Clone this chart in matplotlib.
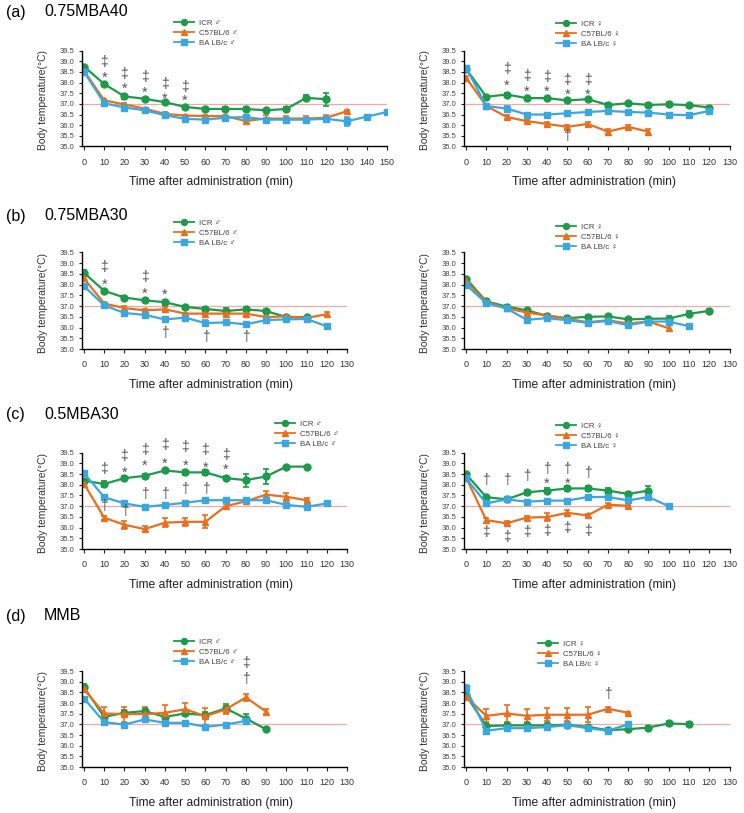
import matplotlib
matplotlib.use('Agg')
import matplotlib.pyplot as plt
from matplotlib.lines import Line2D

plt.rcParams['font.family'] = ['Liberation Sans', 'DejaVu Sans']

# time points (min)
minutes = [0, 10, 20, 30, 40, 50, 60, 70, 80, 90, 100, 110, 120, 130, 140, 150]

# ---- (a) 0.75MBA40
a_icr_m = [38.75, 37.93, 37.35, 37.24, 37.08, 36.86, 36.76, 36.76, 36.76, 36.70, 36.76, 37.28, 37.22]
a_icr_m_err = [0.05, 0.1, 0.1, 0.05, 0.05, 0.05, 0.05, 0.1, 0.1, 0.05, 0.1, 0.12, 0.3]
a_c57_m = [38.55, 37.17, 36.97, 36.78, 36.53, 36.45, 36.43, 36.42, 36.20, 36.31, 36.31, 36.31, 36.35, 36.65]
a_c57_m_err = [0.05, 0.05, 0.05, 0.05, 0.08, 0.05, 0.05, 0.05, 0.05, 0.15, 0.1, 0.1, 0.15, 0.05]
a_balb_m = [38.51, 37.03, 36.83, 36.70, 36.47, 36.30, 36.26, 36.35, 36.38, 36.26, 36.26, 36.26, 36.30, 36.18, 36.40, 36.62]
a_balb_m_err = [0.05, 0.08, 0.05, 0.05, 0.05, 0.05, 0.05, 0.05, 0.1, 0.05, 0.05, 0.05, 0.1, 0.22, 0.05, 0.05]

a_icr_f = [38.65, 37.33, 37.44, 37.27, 37.27, 37.16, 37.22, 36.95, 37.03, 36.95, 36.98, 36.94, 36.83]
a_icr_f_err = [0.05, 0.08, 0.05, 0.05, 0.05, 0.08, 0.06, 0.08, 0.05, 0.08, 0.1, 0.05, 0.05]
a_c57_f = [38.23, 36.90, 36.39, 36.19, 36.06, 35.92, 36.06, 35.70, 35.92, 35.70]
a_c57_f_err = [0.08, 0.05, 0.08, 0.05, 0.08, 0.1, 0.1, 0.1, 0.1, 0.1]
a_balb_f = [38.70, 36.90, 36.78, 36.50, 36.50, 36.56, 36.62, 36.67, 36.62, 36.59, 36.50, 36.47, 36.67]
a_balb_f_err = [0.1, 0.05, 0.1, 0.05, 0.05, 0.05, 0.05, 0.05, 0.05, 0.05, 0.05, 0.1, 0.1]

# ---- (b) 0.75MBA30
b_icr_m = [38.55, 37.71, 37.40, 37.27, 37.18, 36.96, 36.87, 36.77, 36.85, 36.77, 36.49, 36.49]
b_icr_m_err = [0.15, 0.1, 0.05, 0.08, 0.12, 0.05, 0.08, 0.12, 0.08, 0.08, 0.05, 0.05]
b_c57_m = [38.29, 37.12, 36.91, 36.80, 36.85, 36.65, 36.65, 36.65, 36.65, 36.49, 36.52, 36.45, 36.62]
b_c57_m_err = [0.1, 0.05, 0.08, 0.08, 0.1, 0.05, 0.08, 0.1, 0.1, 0.05, 0.05, 0.05, 0.1]
b_balb_m = [37.93, 37.03, 36.68, 36.59, 36.38, 36.46, 36.21, 36.24, 36.15, 36.35, 36.38, 36.40, 36.06]
b_balb_m_err = [0.1, 0.08, 0.08, 0.08, 0.08, 0.05, 0.15, 0.08, 0.12, 0.1, 0.08, 0.05, 0.08]

b_icr_f = [38.28, 37.22, 36.98, 36.80, 36.55, 36.44, 36.50, 36.52, 36.38, 36.41, 36.42, 36.64, 36.78]
b_icr_f_err = [0.05, 0.05, 0.05, 0.08, 0.06, 0.08, 0.07, 0.07, 0.07, 0.07, 0.1, 0.12, 0.1]
b_c57_f = [38.15, 37.19, 36.90, 36.70, 36.56, 36.41, 36.25, 36.34, 36.19, 36.28, 35.97]
b_c57_f_err = [0.05, 0.05, 0.05, 0.1, 0.08, 0.05, 0.05, 0.05, 0.05, 0.05, 0.15]
b_balb_f = [38.00, 37.14, 36.89, 36.36, 36.44, 36.34, 36.22, 36.31, 36.11, 36.28, 36.28, 36.06]
b_balb_f_err = [0.05, 0.05, 0.05, 0.05, 0.05, 0.1, 0.08, 0.05, 0.1, 0.08, 0.05, 0.08]

# ---- (c) 0.5MBA30
c_icr_m = [38.19, 38.04, 38.31, 38.42, 38.67, 38.58, 38.58, 38.31, 38.22, 38.39, 38.85, 38.85]
c_icr_m_err = [0.08, 0.12, 0.1, 0.1, 0.06, 0.12, 0.1, 0.1, 0.3, 0.35, 0.05, 0.05]
c_c57_m = [38.05, 36.46, 36.13, 35.93, 36.23, 36.27, 36.27, 37.00, 37.23, 37.54, 37.44, 37.28]
c_c57_m_err = [0.05, 0.1, 0.2, 0.15, 0.2, 0.18, 0.3, 0.08, 0.08, 0.15, 0.2, 0.08]
c_balb_m = [38.54, 37.42, 37.13, 36.97, 37.06, 37.16, 37.28, 37.28, 37.28, 37.28, 37.06, 36.97, 37.13]
c_balb_m_err = [0.08, 0.08, 0.06, 0.05, 0.05, 0.06, 0.1, 0.1, 0.1, 0.1, 0.08, 0.06, 0.05]

c_icr_f = [38.50, 37.42, 37.32, 37.65, 37.73, 37.83, 37.83, 37.73, 37.57, 37.73]
c_icr_f_err = [0.05, 0.12, 0.08, 0.12, 0.1, 0.1, 0.1, 0.1, 0.08, 0.2]
c_c57_f = [38.34, 36.35, 36.20, 36.47, 36.49, 36.69, 36.57, 37.07, 37.02]
c_c57_f_err = [0.05, 0.12, 0.1, 0.08, 0.2, 0.12, 0.08, 0.1, 0.05]
c_balb_f = [38.30, 37.13, 37.32, 37.21, 37.26, 37.26, 37.43, 37.43, 37.27, 37.43, 37.00]
c_balb_f_err = [0.08, 0.08, 0.08, 0.06, 0.06, 0.06, 0.1, 0.1, 0.1, 0.08, 0.05]

# ---- (d) MMB
d_icr_m = [38.73, 37.35, 37.54, 37.62, 37.35, 37.51, 37.43, 37.75, 37.27, 36.77]
d_icr_m_err = [0.15, 0.15, 0.12, 0.15, 0.15, 0.12, 0.15, 0.2, 0.2, 0.05]
d_c57_m = [38.64, 37.51, 37.48, 37.48, 37.54, 37.71, 37.38, 37.70, 38.26, 37.60]
d_c57_m_err = [0.1, 0.3, 0.35, 0.35, 0.35, 0.3, 0.4, 0.2, 0.15, 0.1]
d_balb_m = [38.21, 37.10, 36.99, 37.23, 37.07, 37.07, 36.88, 36.99, 37.16]
d_balb_m_err = [0.08, 0.08, 0.08, 0.08, 0.08, 0.08, 0.08, 0.08, 0.08]

d_icr_f = [38.37, 36.92, 36.95, 36.95, 36.95, 36.98, 36.88, 36.73, 36.77, 36.85, 37.04, 37.01]
d_icr_f_err = [0.08, 0.12, 0.1, 0.08, 0.08, 0.1, 0.1, 0.1, 0.1, 0.08, 0.1, 0.1]
d_c57_f = [38.29, 37.40, 37.51, 37.40, 37.45, 37.45, 37.45, 37.73, 37.54]
d_c57_f_err = [0.05, 0.3, 0.4, 0.3, 0.3, 0.3, 0.35, 0.1, 0.05]
d_balb_f = [38.69, 36.70, 36.82, 36.82, 36.87, 36.96, 36.82, 36.70, 37.00]
d_balb_f_err = [0.15, 0.05, 0.05, 0.05, 0.05, 0.05, 0.05, 0.15, 0.05]

# significance marks: (time, temperature, symbol)
a_marks_m = [(10, 38.97, '‡'), (10, 38.40, '*'), (20, 38.40, '‡'), (20, 37.88, '*'),
             (30, 38.25, '‡'), (30, 37.68, '*'), (40, 37.93, '‡'), (40, 37.41, '*'),
             (50, 37.80, '‡'), (50, 37.33, '*')]
a_marks_f = [(20, 38.64, '‡'), (20, 38.02, '*'), (30, 38.31, '‡'), (30, 37.74, '*'),
             (40, 38.28, '‡'), (40, 37.74, '*'), (50, 38.13, '‡'), (50, 37.62, '*'),
             (60, 38.13, '‡'), (60, 37.62, '*'), (50, 35.47, '†')]
b_marks_m = [(10, 38.81, '‡'), (10, 38.17, '*'), (30, 38.36, '‡'), (30, 37.74, '*'),
             (40, 37.71, '*'), (40, 35.74, '†'), (60, 35.56, '†'), (80, 35.56, '†')]
b_marks_f = []
c_marks_m = [(10, 38.76, '‡'), (10, 37.03, '†'), (20, 39.35, '‡'), (20, 38.75, '*'), (20, 36.77, '†'),
             (30, 39.62, '‡'), (30, 39.07, '*'), (30, 37.57, '†'), (40, 39.86, '‡'), (40, 39.16, '*'),
             (40, 37.57, '†'), (50, 39.78, '‡'), (50, 39.05, '*'), (50, 37.80, '†'),
             (60, 39.62, '‡'), (60, 38.98, '*'), (60, 37.80, '†'), (70, 39.41, '‡'), (70, 38.85, '*')]
c_marks_f = [(10, 38.22, '†'), (20, 38.22, '†'), (30, 38.40, '†'), (40, 38.76, '†'), (40, 38.22, '*'),
             (50, 38.76, '†'), (50, 38.22, '*'), (60, 38.53, '†'),
             (10, 35.78, '‡'), (20, 35.55, '‡'), (30, 35.78, '‡'), (40, 35.86, '‡'),
             (50, 35.97, '‡'), (60, 35.86, '‡')]
d_marks_m = [(80, 39.89, '‡'), (80, 39.11, '†')]
d_marks_f = [(70, 38.40, '†')]

GREEN = '#1d9a4a'
ORANGE = '#e96f1d'
BLUE = '#3ba7df'
PINK = '#f2a8a8'
MARK = '#555555'

W, H = 744, 813
fig = plt.figure(figsize=(W / 100, H / 100), dpi=100)


def add_panel(left, top, right, bottom, xmax, series, sex, legend_xy, marks, label_x):
    ax = fig.add_axes([left / W, 1 - bottom / H, (right - left) / W, (bottom - top) / H])
    ax.axhline(37.0, color=PINK, lw=0.9, zorder=0)
    styles = [(GREEN, 'o'), (ORANGE, '^'), (BLUE, 's')]
    for (vals, errs), (col, mk) in zip(series, styles):
        t = minutes[:len(vals)]
        ax.errorbar(t, vals, yerr=errs, color=col, marker=mk, ms=5, lw=1.6,
                    elinewidth=1.2, capsize=2.2, capthick=1.2)
    for x, y, s in marks:
        if s == '*':
            ax.text(x, y - 0.17, s, ha='center', va='center', fontsize=10.5, color=MARK)
        else:
            ax.text(x, y, s, ha='center', va='center', fontsize=10, color=MARK)
    ax.set_xlim(-1, xmax)
    ax.set_ylim(35.0, 39.5)
    ax.set_xticks(minutes[:xmax // 10 + 1])
    ax.set_yticks([35.0, 35.5, 36.0, 36.5, 37.0, 37.5, 38.0, 38.5, 39.0, 39.5])
    ax.set_yticklabels([f'{v:.1f}' for v in ax.get_yticks()])
    for s in ['top', 'right']:
        ax.spines[s].set_visible(False)
    for s in ['left', 'bottom']:
        ax.spines[s].set_linewidth(1.0)
    ax.tick_params(axis='y', labelsize=5.5, length=2.5, width=0.8, pad=3, colors='#222222', labelcolor='#444444')
    ax.tick_params(axis='x', labelsize=6.5, length=3, width=0.8, pad=5, colors='#222222', labelcolor='#333333')
    ax.set_ylabel('Body temperature(°C)', fontsize=7.4, color='#333333')
    ax.yaxis.set_label_coords(-34 / (right - left), 0.48)
    ax.set_xlabel('Time after administration (min)', fontsize=8.7, color='#222222')
    ax.xaxis.set_label_coords((label_x - left) / (right - left), -30 / (bottom - top))
    handles = [Line2D([], [], color=c, marker=m, ms=4.3, lw=1.3) for c, m in styles]
    labels = ['ICR ' + sex, 'C57BL/6 ' + sex, 'BA LB/c ' + sex]
    ax.legend(handles, labels, loc='upper left', bbox_to_anchor=(legend_xy[0] / W, 1 - legend_xy[1] / H),
              bbox_transform=fig.transFigure, frameon=False, fontsize=5.7, labelcolor='#444444',
              handlelength=2.5, handletextpad=0.6, labelspacing=0.3, borderpad=0, borderaxespad=0)
    return ax


def add_title(y, tag, name):
    fig.text(6 / W, 1 - y / H, tag, fontsize=11.5, va='center')
    fig.text(44 / W, 1 - y / H, name, fontsize=11.5, va='center')


# (a)
add_title(12, '(a)', '0.75MBA40')
add_panel(82, 50.6, 387, 146.5, 150,
          [(a_icr_m, a_icr_m_err), (a_c57_m, a_c57_m_err), (a_balb_m, a_balb_m_err)],
          '♂', (174, 19.5), a_marks_m, 211)
add_panel(464, 50.6, 729.5, 146.5, 130,
          [(a_icr_f, a_icr_f_err), (a_c57_f, a_c57_f_err), (a_balb_f, a_balb_f_err)],
          '♀', (556, 20.5), a_marks_f, 594)

# (b)
add_title(216, '(b)', '0.75MBA30')
add_panel(82, 252.5, 347, 349, 130,
          [(b_icr_m, b_icr_m_err), (b_c57_m, b_c57_m_err), (b_balb_m, b_balb_m_err)],
          '♂', (174, 219.5), b_marks_m, 211)
add_panel(464, 252.5, 729.5, 349, 130,
          [(b_icr_f, b_icr_f_err), (b_c57_f, b_c57_f_err), (b_balb_f, b_balb_f_err)],
          '♀', (556, 223.5), b_marks_f, 594)

# (c)
add_title(414, '(c)', '0.5MBA30')
add_panel(82, 452.7, 347, 549, 130,
          [(c_icr_m, c_icr_m_err), (c_c57_m, c_c57_m_err), (c_balb_m, c_balb_m_err)],
          '♂', (275, 420.5), c_marks_m, 211)
add_panel(464, 452.7, 729.5, 549, 130,
          [(c_icr_f, c_icr_f_err), (c_c57_f, c_c57_f_err), (c_balb_f, c_balb_f_err)],
          '♀', (556, 422.5), c_marks_f, 594)

# (d)
add_title(616, '(d)', 'MMB')
add_panel(82, 671, 347, 767, 130,
          [(d_icr_m, d_icr_m_err), (d_c57_m, d_c57_m_err), (d_balb_m, d_balb_m_err)],
          '♂', (174, 638.5), d_marks_m, 211)
add_panel(464, 671, 729.5, 767, 130,
          [(d_icr_f, d_icr_f_err), (d_c57_f, d_c57_f_err), (d_balb_f, d_balb_f_err)],
          '♀', (538, 640.5), d_marks_f, 594)

fig.savefig('out.png', dpi=100)
